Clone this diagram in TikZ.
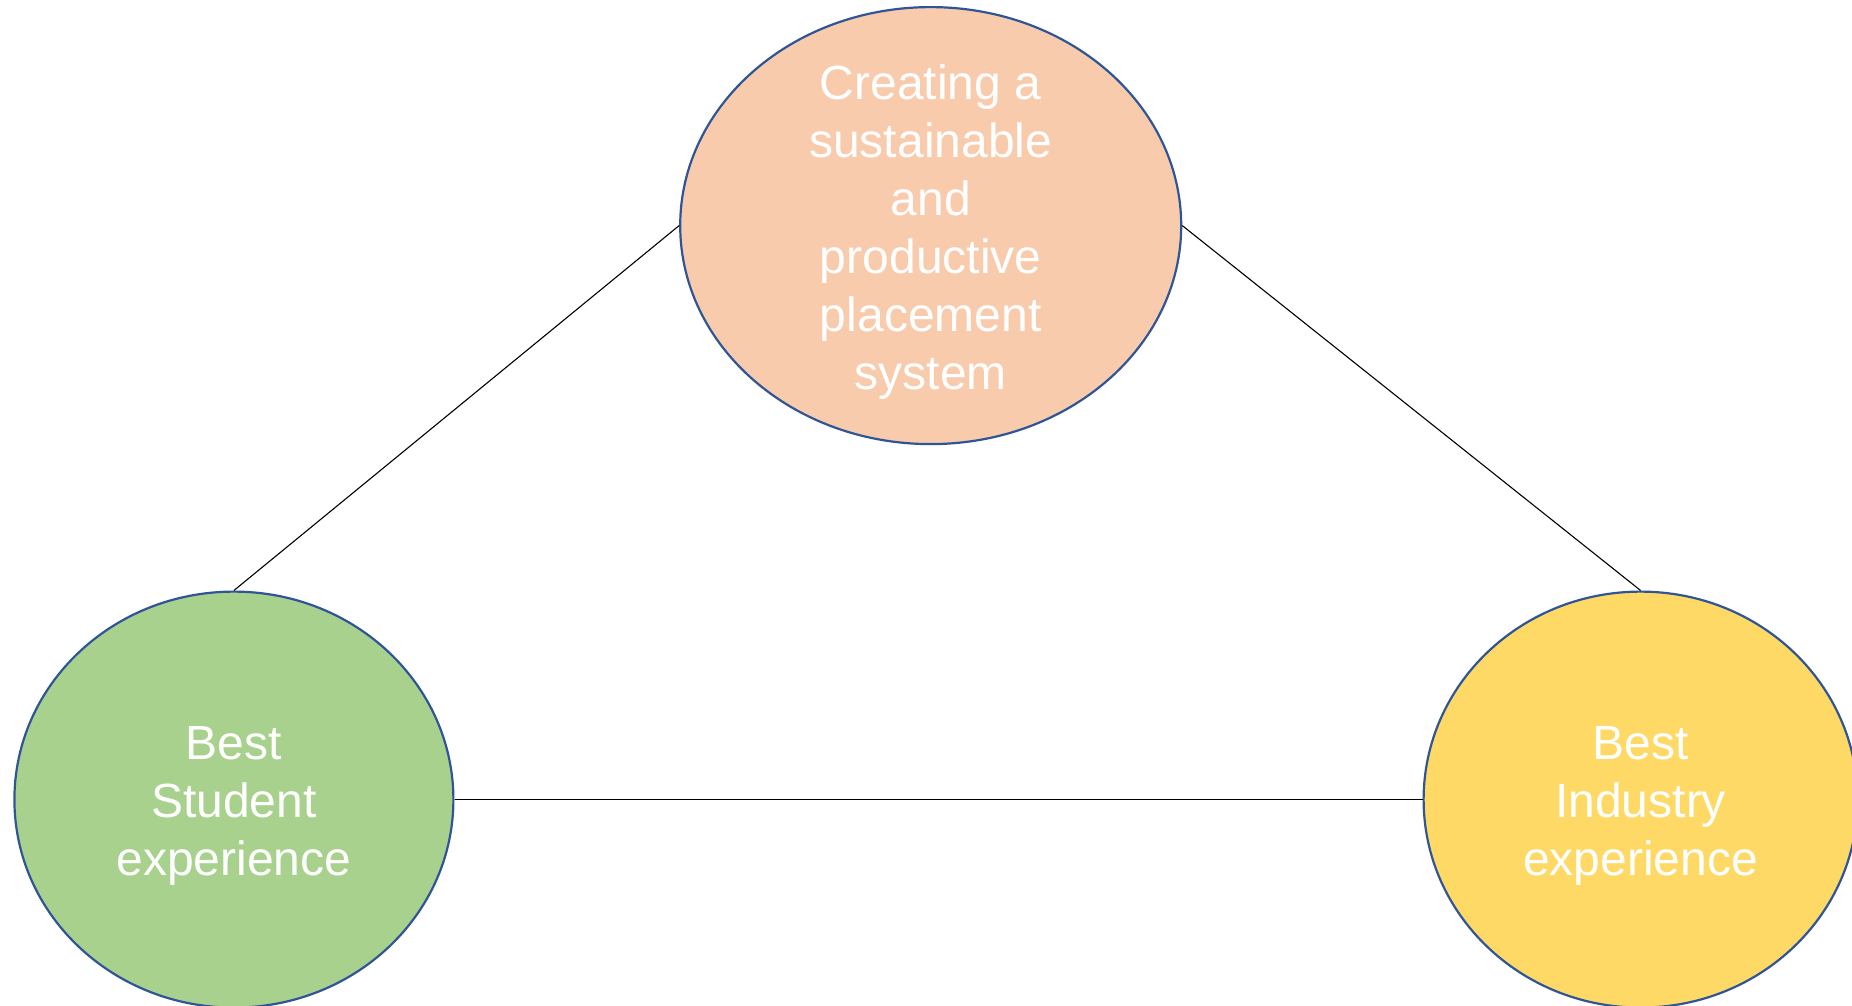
\documentclass[tikz,border=0pt]{standalone}
\usepackage{fontspec}
\setmainfont{Liberation Sans}
\usetikzlibrary{shapes.geometric}
\definecolor{peach}{HTML}{F8CBAD}
\definecolor{leaf}{HTML}{A9D18E}
\definecolor{gold}{HTML}{FFD966}
\definecolor{rim}{HTML}{2F5597}
\begin{document}
\begin{tikzpicture}[x=1pt,y=-1pt,
  bubble/.style={ellipse, draw=rim, line width=2.2pt, inner sep=0pt},
  words/.style={text=white, align=center, inner sep=0pt, yshift=-6pt,
    font=\fontsize{48}{58}\selectfont},
  link/.style={draw=black, line width=1.1pt}]
\useasboundingbox (0,0) rectangle (1852,1006);
\node[bubble, fill=peach, minimum width=501, minimum height=437] (top) at (930.7,225.6) {};
\node[bubble, fill=leaf, minimum width=439, minimum height=416] (stud) at (233.9,799.6) {};
\node[bubble, fill=gold, minimum width=434, minimum height=416] (ind) at (1640.6,799.6) {};
\node[words] (toptext) at (top.center)
  {Creating a\\sustainable\\and\\productive\\placement\\system};
\node[words] (studtext) at (stud.center) {Best\\Student\\experience};
\node[words] (indtext) at (ind.center) {Best\\Industry\\experience};
\draw[link] (top.west) -- (stud.north);
\draw[link] (top.east) -- (ind.north);
\draw[link] (stud.east) -- (ind.west);
\end{tikzpicture}
\end{document}
